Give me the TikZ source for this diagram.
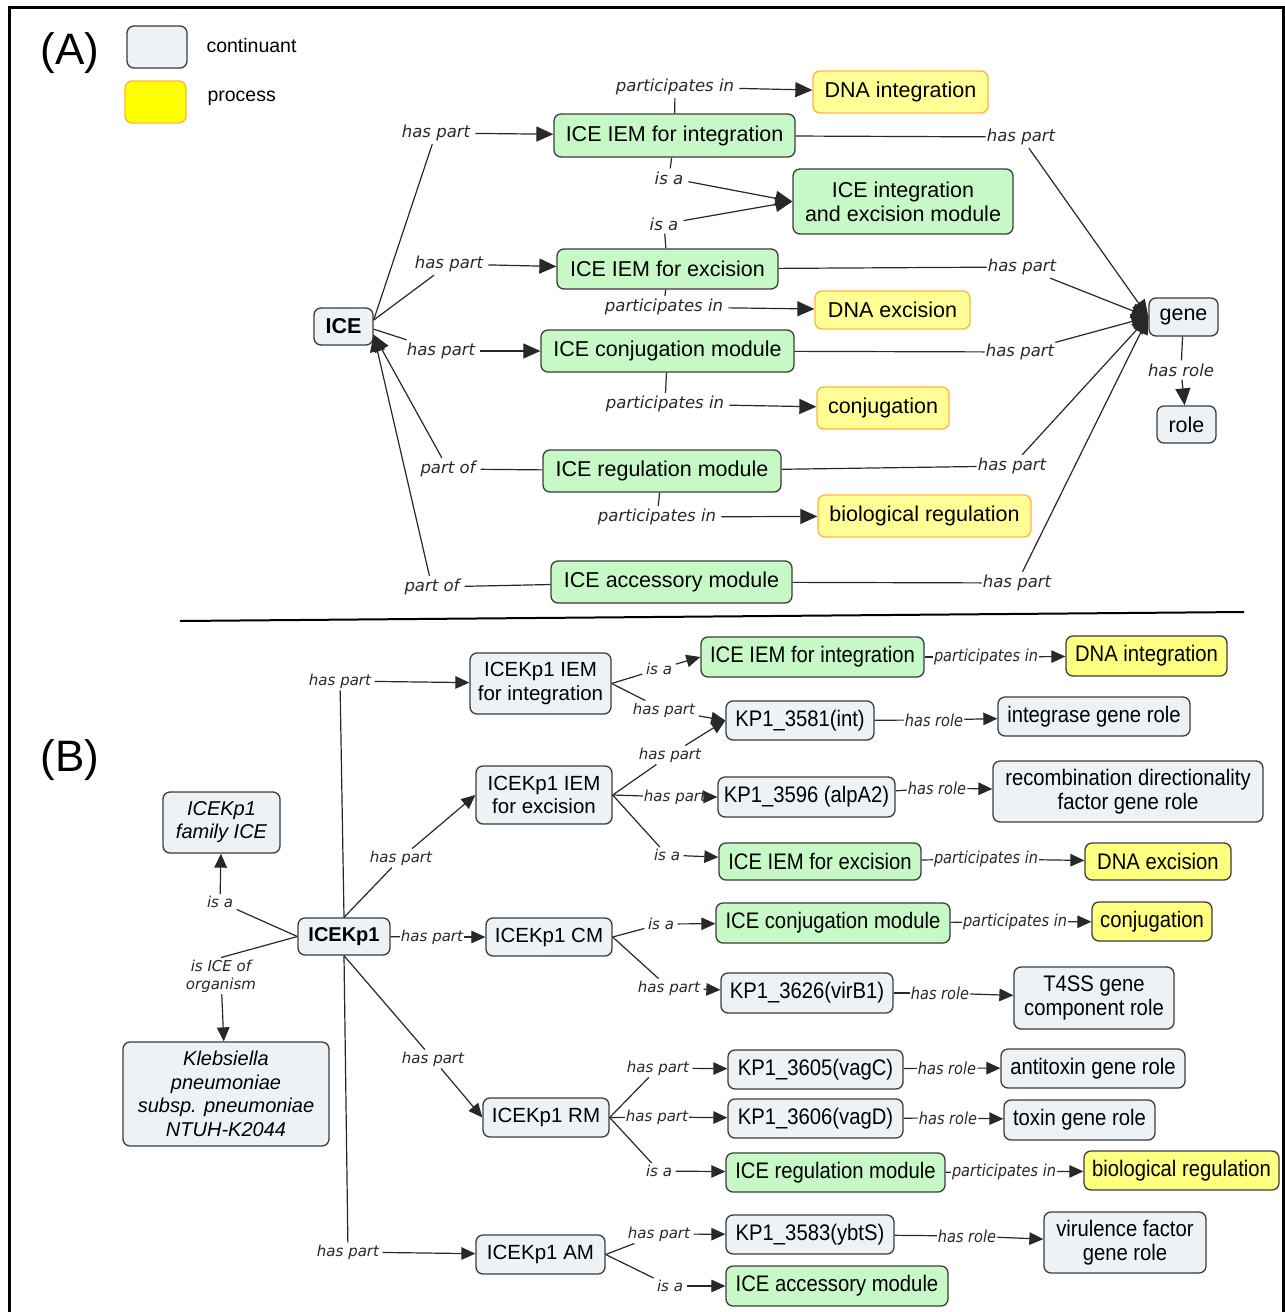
\documentclass[tikz,border=0pt]{standalone}
\usepackage{fontspec}
\setmainfont{Liberation Sans}
\newfontfamily\labfont{DejaVu Sans}
\newfontfamily\labnarrow[FakeStretch=0.88]{DejaVu Sans}
\newfontfamily\nodenarrow[FakeStretch=0.9]{Liberation Sans}
\usetikzlibrary{arrows.meta}
\definecolor{contc}{RGB}{236,242,245}
\definecolor{edgec}{RGB}{60,60,60}
\definecolor{greenc}{RGB}{199,249,199}
\definecolor{yellA}{RGB}{255,255,150}
\definecolor{orangeA}{RGB}{255,180,60}
\definecolor{yellL}{RGB}{255,255,0}
\definecolor{yellB}{RGB}{255,255,128}
\definecolor{linec}{RGB}{40,40,40}
\definecolor{labc}{RGB}{40,40,40}
\tikzset{
  box/.style={draw=edgec, line width=1.3pt, rounded corners=7pt, inner sep=0pt, align=center, text=black},
  fA/.style={font=\fontsize{21.5}{24}\selectfont},
  fB/.style={font=\fontsize{20.5}{23.5}\selectfont},
  fBn/.style={font=\nodenarrow\fontsize{22.5}{24}\selectfont},
  cont/.style={box, fill=contc},
  modc/.style={box, fill=greenc},
  procA/.style={box, fill=yellA, draw=orangeA},
  procB/.style={box, fill=yellB},
  lblA/.style={inner xsep=5pt, inner ysep=3pt, text=labc, font=\labfont\itshape\fontsize{16.5}{19}\selectfont},
  lblB/.style={inner xsep=3.5pt, inner ysep=2pt, text=labc, font=\labfont\itshape\fontsize{15}{17.5}\selectfont},
  lblBn/.style={inner xsep=3.5pt, inner ysep=2pt, text=labc, font=\labnarrow\itshape\fontsize{16.5}{19}\selectfont},
  con/.style={draw=linec, line width=1.2pt},
  arr/.style={con, -{Triangle[length=17pt,width=15pt]}},
  arrB/.style={con, -{Triangle[length=14pt,width=12.5pt]}},
}
\begin{document}
\begin{tikzpicture}[x=1pt,y=-1pt]
\useasboundingbox[fill=white] (0,0) rectangle (1285,1312);
\draw[line width=3pt] (9.5,1320) -- (9.5,7.5) -- (1283,7.5) -- (1283,1320);
\draw[line width=2pt] (180,621) -- (1244,612);

% ---------- legend ----------
\node[font=\fontsize{44}{48}\selectfont] (labA) at (70,53) {(A)};
\node[cont, minimum width=60, minimum height=42] (leg1) at (157,47) {};
\node[box, fill=yellL, draw=orangeA, minimum width=61, minimum height=42] (leg2) at (155.5,102) {};
\node[font=\fontsize{19.5}{22}\selectfont, anchor=west] (legt1) at (203,46) {continuant};
\node[font=\fontsize{19.5}{22}\selectfont, anchor=west] (legt2) at (204,98) {process};

% ---------- section A nodes ----------
\node[cont, fA, font=\bfseries\fontsize{21.5}{24}\selectfont, minimum width=59, minimum height=37] (ice) at (343.5,326.5) {ICE};
\node[modc, fA, minimum width=241, minimum height=43] (iemint) at (674.5,135.5) {ICE IEM for integration};
\node[procA, fA, minimum width=175, minimum height=42] (dnaint) at (900.5,92) {DNA integration};
\node[modc, fA, minimum width=220, minimum height=65] (iemod) at (903,201.5) {ICE integration\\and excision module};
\node[modc, fA, minimum width=221, minimum height=40] (iemexc) at (667.5,269) {ICE IEM for excision};
\node[procA, fA, minimum width=155, minimum height=38] (dnaexc) at (892.5,310) {DNA excision};
\node[modc, fA, minimum width=253, minimum height=42] (conjmod) at (667.5,351) {ICE conjugation module};
\node[procA, fA, minimum width=132, minimum height=42] (conj) at (883,408) {conjugation};
\node[modc, fA, minimum width=238, minimum height=42] (regmod) at (662,471) {ICE regulation module};
\node[procA, fA, minimum width=213, minimum height=42] (bioreg) at (924.5,516) {biological regulation};
\node[modc, fA, minimum width=241, minimum height=42] (accmod) at (671.5,582) {ICE accessory module};
\node[cont, fA, minimum width=69, minimum height=38] (gene) at (1183.5,317) {gene};
\node[cont, fA, minimum width=59, minimum height=37] (role) at (1186.5,424.5) {role};

% ---------- section A labels ----------
\node[lblA] (pA1) at (675,87) {participates in};
\node[lblA] (hA1) at (436,133) {has part};
\node[lblA] (isA1) at (669,178) {is a};
\node[lblA] (isA2) at (664,224) {is a};
\node[lblA] (hA2) at (449,264) {has part};
\node[lblA] (pA2) at (664,307) {participates in};
\node[lblA] (hA3) at (441,351) {has part};
\node[lblA] (pA3) at (665,404) {participates in};
\node[lblA] (poA1) at (448,469) {part of};
\node[lblA] (pA4) at (657,517) {participates in};
\node[lblA] (poA2) at (432,587) {part of};
\node[lblA, inner xsep=1pt] (gA1) at (1021,137) {has part};
\node[lblA, inner xsep=1pt] (gA2) at (1022,267) {has part};
\node[lblA, inner xsep=1pt] (gA3) at (1020,352) {has part};
\node[lblA, inner xsep=1pt] (gA4) at (1012,466) {has part};
\node[lblA, inner xsep=1pt] (gA5) at (1017,583) {has part};
\node[lblA] (hr) at (1181,370) {has role};

% ---------- section A connectors ----------
\draw[con] (ice.12) -- (hA1);   \draw[arr] (hA1) -- (iemint);
\draw[con] (iemint) -- (pA1);   \draw[arr] (pA1) -- (dnaint);
\draw[con] (iemint) -- (isA1);  \draw[arr] (isA1) -- (iemod.west);
\draw[con] (iemexc) -- (isA2);  \draw[arr] (isA2) -- (iemod.west);
\draw[con] (ice.12) -- (hA2);   \draw[arr] (hA2) -- (iemexc);
\draw[con] (iemexc) -- (pA2);   \draw[arr] (pA2) -- (dnaexc);
\draw[con] (ice.-5) -- (hA3);   \draw[arr] (hA3) -- (conjmod);
\draw[con] (conjmod) -- (pA3);  \draw[arr] (pA3) -- (conj);
\draw[con] (regmod) -- (poA1);  \draw[arr] (poA1) -- (ice.-15);
\draw[con] (regmod) -- (pA4);   \draw[arr] (pA4) -- (bioreg);
\draw[con] (accmod) -- (poA2);  \draw[arr] (poA2) -- (ice.-15);
\draw[con] (iemint) -- (gA1);   \draw[arr] (gA1) -- (gene.west);
\draw[con] (iemexc) -- (gA2);   \draw[arr] (gA2) -- (gene.west);
\draw[con] (conjmod) -- (gA3);  \draw[arr] (gA3) -- (gene.west);
\draw[con] (regmod) -- (gA4);   \draw[arr] (gA4) -- (gene.west);
\draw[con] (accmod) -- (gA5);   \draw[arr] (gA5) -- (gene.west);
\draw[con] (gene) -- (hr);      \draw[arr] (hr) -- (role);

% ---------- section B nodes ----------
\node[font=\fontsize{44}{48}\selectfont] (labB) at (70,760) {(B)};
\node[cont, font=\bfseries\fontsize{20}{23}\selectfont, minimum width=92, minimum height=37] (icekp) at (344,936.5) {ICEKp1};
\node[cont, fB, font=\itshape\fontsize{20}{23}\selectfont, minimum width=117, minimum height=61] (fam) at (221.5,822.5) {ICEKp1\\family ICE};
\node[cont, font=\itshape\fontsize{20}{23.5}\selectfont, minimum width=206, minimum height=104] (kleb) at (226,1094) {Klebsiella\\pneumoniae\\subsp. pneumoniae\\NTUH-K2044};
\node[cont, fB, minimum width=141, minimum height=61] (bint) at (540.5,683.5) {ICEKp1 IEM\\for integration};
\node[cont, fB, minimum width=136, minimum height=58] (bexc) at (544,795) {ICEKp1 IEM\\for excision};
\node[cont, fB, minimum width=126, minimum height=38] (bcm) at (549,937) {ICEKp1 CM};
\node[cont, fB, minimum width=126, minimum height=39] (brm) at (546,1117.5) {ICEKp1 RM};
\node[cont, fB, minimum width=129, minimum height=39] (bam) at (540.5,1254.5) {ICEKp1 AM};

\node[modc, fBn, minimum width=223, minimum height=40] (gint) at (812.5,657) {ICE IEM for integration};
\node[procB, fBn, minimum width=161, minimum height=40] (dint) at (1146.5,656) {DNA integration};
\node[cont, fBn, minimum width=148, minimum height=39] (kp81) at (800,720.5) {KP1\_3581(int)};
\node[cont, fBn, minimum width=192, minimum height=39] (integ) at (1094,716.5) {integrase gene role};
\node[cont, fBn, minimum width=177, minimum height=40] (kp96) at (806.5,797) {KP1\_3596 (alpA2)};
\node[cont, fBn, minimum width=270, minimum height=61] (recomb) at (1128,791.5) {recombination directionality\\factor gene role};
\node[modc, fBn, minimum width=202, minimum height=37] (gexc) at (820,861.5) {ICE IEM for excision};
\node[procB, fBn, minimum width=146, minimum height=37] (dexc) at (1158,861.5) {DNA excision};
\node[modc, fBn, minimum width=234, minimum height=40] (gconj) at (833,923) {ICE conjugation module};
\node[procB, fBn, minimum width=120, minimum height=39] (conjB) at (1152,921.5) {conjugation};
\node[cont, fBn, minimum width=172, minimum height=40] (kp26) at (807,993) {KP1\_3626(virB1)};
\node[cont, fBn, minimum width=160, minimum height=62] (t4ss) at (1094,998) {T4SS gene\\component role};
\node[cont, fBn, minimum width=175, minimum height=39] (kp05) at (815.5,1069.5) {KP1\_3605(vagC)};
\node[cont, fBn, minimum width=184, minimum height=39] (antit) at (1093,1068.5) {antitoxin gene role};
\node[cont, fBn, minimum width=175, minimum height=39] (kp06) at (815.5,1118.5) {KP1\_3606(vagD)};
\node[cont, fBn, minimum width=151, minimum height=40] (toxin) at (1079.5,1120) {toxin gene role};
\node[modc, fBn, minimum width=219, minimum height=39] (greg) at (835.5,1172.5) {ICE regulation module};
\node[procB, fBn, minimum width=195, minimum height=39] (breg) at (1181.5,1170.5) {biological regulation};
\node[cont, fBn, minimum width=168, minimum height=39] (kp83) at (810,1234.5) {KP1\_3583(ybtS)};
\node[cont, fBn, minimum width=162, minimum height=61] (vir) at (1125,1242.5) {virulence factor\\gene role};
\node[modc, fBn, minimum width=222, minimum height=40] (gacc) at (837,1286) {ICE accessory module};

% ---------- section B labels ----------
\node[lblB] (bh1) at (340,681) {has part};
\node[lblB] (bh2) at (401,858) {has part};
\node[lblB, inner xsep=1pt] (bh3) at (432,937) {has part};
\node[lblB] (bh4) at (433,1059) {has part};
\node[lblB] (bh5) at (348,1252) {has part};
\node[lblB] (bisa) at (220,902) {is a};
\node[lblB, align=center, font=\labfont\itshape\fontsize{15}{18}\selectfont] (bor) at (221,976) {is ICE of\\organism};
\node[lblB] (bi1) at (659,669) {is a};
\node[lblB] (bh6) at (664,710) {has part};
\node[lblB] (bh7) at (670,755) {has part};
\node[lblB, inner xsep=1pt] (bh8) at (675,797) {has part};
\node[lblB] (bi2) at (667,855) {is a};
\node[lblBn, inner xsep=1pt] (bp1) at (986,657) {participates in};
\node[lblBn, inner xsep=1pt] (br1) at (934,720) {has role};
\node[lblBn, inner xsep=1pt] (br2) at (937,788) {has role};
\node[lblBn, inner xsep=1pt] (bp2) at (986,859) {participates in};
\node[lblB] (bi3) at (661,924) {is a};
\node[lblB] (bh9) at (669,988) {has part};
\node[lblBn, inner xsep=1pt] (bp3) at (1015,922) {participates in};
\node[lblBn, inner xsep=1pt] (br3) at (940,993) {has role};
\node[lblB] (bh10) at (658,1068) {has part};
\node[lblB, inner xsep=1pt] (bh11) at (657,1117) {has part};
\node[lblB] (bi4) at (659,1171) {is a};
\node[lblBn, inner xsep=1pt] (br4) at (947,1068) {has role};
\node[lblBn, inner xsep=1pt] (br5) at (948,1118) {has role};
\node[lblBn, inner xsep=1pt] (bp4) at (1004,1172) {participates in};
\node[lblB] (bh12) at (659,1234) {has part};
\node[lblB] (bi5) at (670,1286) {is a};
\node[lblBn, inner xsep=1pt] (br6) at (967,1236) {has role};

% ---------- section B connectors ----------
\draw[con] (icekp.north) -- (bh1);  \draw[arrB] (bh1) -- (bint);
\draw[con] (icekp.north) -- (bh2);  \draw[arrB] (bh2) -- (bexc.west);
\draw[con] (icekp) -- (bh3);        \draw[arrB] (bh3) -- (bcm);
\draw[con] (icekp.south) -- (bh4);  \draw[arrB] (bh4) -- (brm.west);
\draw[con] (icekp.south) -- (bh5);  \draw[arrB] (bh5) -- (bam);
\draw[con] (icekp.west) -- (bisa);  \draw[arrB] (bisa) -- (fam);
\draw[con] (icekp.west) -- (bor.north); \draw[arrB] (bor) -- (kleb);

\draw[con] (bint.east) -- (bi1);    \draw[arrB] (bi1) -- (gint.west);
\draw[con] (bint.east) -- (bh6);    \draw[arrB] (bh6) -- (kp81.west);
\draw[con] (bexc.east) -- (bh7);    \draw[arrB] (bh7) -- (kp81.west);
\draw[con] (bexc.east) -- (bh8);    \draw[arrB] (bh8) -- (kp96);
\draw[con] (bexc.east) -- (bi2);    \draw[arrB] (bi2) -- (gexc);
\draw[con] (gint) -- (bp1);         \draw[arrB] (bp1) -- (dint);
\draw[con] (kp81) -- (br1);         \draw[arrB] (br1) -- (integ);
\draw[con] (kp96) -- (br2);         \draw[arrB] (br2) -- (recomb);
\draw[con] (gexc) -- (bp2);         \draw[arrB] (bp2) -- (dexc);
\draw[con] (bcm.east) -- (bi3);     \draw[arrB] (bi3) -- (gconj);
\draw[con] (bcm.east) -- (bh9);     \draw[arrB] (bh9) -- (kp26);
\draw[con] (gconj) -- (bp3);        \draw[arrB] (bp3) -- (conjB);
\draw[con] (kp26) -- (br3);         \draw[arrB] (br3) -- (t4ss);
\draw[con] (brm.east) -- (bh10);    \draw[arrB] (bh10) -- (kp05);
\draw[con] (brm.east) -- (bh11);    \draw[arrB] (bh11) -- (kp06);
\draw[con] (brm.east) -- (bi4);     \draw[arrB] (bi4) -- (greg);
\draw[con] (kp05) -- (br4);         \draw[arrB] (br4) -- (antit);
\draw[con] (kp06) -- (br5);         \draw[arrB] (br5) -- (toxin);
\draw[con] (greg) -- (bp4);         \draw[arrB] (bp4) -- (breg);
\draw[con] (bam.east) -- (bh12);    \draw[arrB] (bh12) -- (kp83);
\draw[con] (bam.east) -- (bi5);     \draw[arrB] (bi5) -- (gacc);
\draw[con] (kp83) -- (br6);         \draw[arrB] (br6) -- (vir);
\end{tikzpicture}
\end{document}
